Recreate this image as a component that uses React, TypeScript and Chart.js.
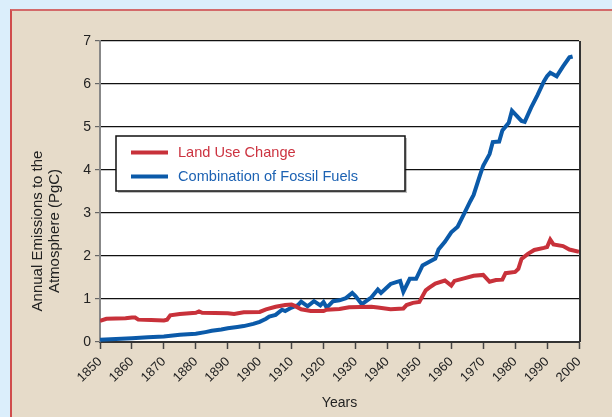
import React, { useEffect, useRef } from "react";
import { Chart, registerables } from "chart.js";

Chart.register(...registerables);

const fossilYears = [1850, 1855, 1860, 1865, 1870, 1875, 1880, 1883, 1885, 1888, 1890, 1893, 1895, 1898, 1900, 1902, 1903, 1905, 1907, 1908, 1910, 1912, 1913, 1915, 1917, 1919, 1920, 1921, 1923, 1925, 1927, 1929, 1930, 1932, 1935, 1937, 1938, 1941, 1943, 1944, 1945, 1947, 1949, 1951, 1953, 1955, 1956, 1958, 1960, 1962, 1964, 1966, 1967, 1969, 1970, 1972, 1973, 1975, 1976, 1978, 1979, 1980, 1982, 1983, 1985, 1987, 1989, 1990, 1991, 1992, 1993, 1995, 1997, 1998];
const fossilValues = [0.05, 0.07, 0.09, 0.11, 0.13, 0.17, 0.19, 0.23, 0.26, 0.29, 0.32, 0.35, 0.37, 0.42, 0.47, 0.54, 0.59, 0.63, 0.75, 0.72, 0.8, 0.86, 0.94, 0.83, 0.95, 0.85, 0.93, 0.8, 0.95, 0.97, 1.02, 1.14, 1.07, 0.88, 1.04, 1.22, 1.14, 1.35, 1.4, 1.42, 1.17, 1.47, 1.47, 1.78, 1.86, 1.94, 2.15, 2.33, 2.55, 2.68, 2.98, 3.28, 3.42, 3.88, 4.1, 4.37, 4.65, 4.66, 4.92, 5.1, 5.38, 5.3, 5.14, 5.12, 5.45, 5.74, 6.06, 6.18, 6.26, 6.22, 6.18, 6.41, 6.62, 6.64];

const landYears = [1850, 1852, 1858, 1860, 1861, 1862, 1866, 1870, 1871, 1872, 1875, 1880, 1881, 1882, 1890, 1892, 1895, 1900, 1902, 1905, 1908, 1910, 1911, 1913, 1916, 1920, 1921, 1925, 1928, 1935, 1937, 1941, 1945, 1946, 1948, 1950, 1952, 1953, 1955, 1958, 1960, 1961, 1964, 1967, 1970, 1972, 1974, 1976, 1977, 1980, 1981, 1982, 1984, 1986, 1989, 1990, 1991, 1992, 1995, 1997, 2000];
const landValues = [0.49, 0.54, 0.55, 0.57, 0.57, 0.52, 0.51, 0.5, 0.52, 0.62, 0.65, 0.68, 0.71, 0.68, 0.67, 0.65, 0.69, 0.7, 0.76, 0.82, 0.86, 0.87, 0.84, 0.76, 0.72, 0.72, 0.75, 0.77, 0.81, 0.82, 0.8, 0.76, 0.78, 0.86, 0.91, 0.93, 1.2, 1.26, 1.36, 1.43, 1.31, 1.42, 1.48, 1.54, 1.56, 1.4, 1.44, 1.45, 1.6, 1.63, 1.7, 1.93, 2.05, 2.14, 2.19, 2.21, 2.38, 2.27, 2.23, 2.15, 2.1];

const seriesLabels = ["Land Use Change", "Combination of Fossil Fuels"];
const seriesColors = ["#c8313a", "#0b5aa9"];
const legendTextColors = ["#cc3340", "#1c62b3"];
const yTitleLines = ["Annual Emissions to the", "Atmosphere (PgC)"];
const xTitle = "Years";

const FONT = "'Liberation Sans', Arial, sans-serif";

const decorPlugin = {
  id: "decor",
  beforeDraw(chart: any) {
    const { ctx, chartArea } = chart;
    ctx.save();
    ctx.fillStyle = "#ffffff";
    ctx.fillRect(chartArea.left, chartArea.top, chartArea.right - chartArea.left, chartArea.bottom - chartArea.top);
    ctx.restore();
  },
  afterDraw(chart: any) {
    const { ctx, chartArea } = chart;
    ctx.save();
    // right border
    ctx.strokeStyle = "#333";
    ctx.lineWidth = 2;
    ctx.beginPath();
    ctx.moveTo(chartArea.right + 1, chartArea.top);
    ctx.lineTo(chartArea.right + 1, chartArea.bottom);
    ctx.stroke();

    // y-axis title
    ctx.fillStyle = "#222";
    ctx.font = `15px ${FONT}`;
    ctx.textAlign = "center";
    ctx.textBaseline = "middle";
    const cy = 231;
    const xs = [37.5, 54.5];
    yTitleLines.forEach((t, i) => {
      ctx.save();
      ctx.translate(xs[i], cy);
      ctx.rotate(-Math.PI / 2);
      ctx.fillText(t, 0, 0);
      ctx.restore();
    });

    // legend box
    const bx = 116, by = 136, bw = 289, bh = 55;
    ctx.fillStyle = "rgba(0,0,0,0.25)";
    ctx.fillRect(bx + 2, by + 2, bw, bh);
    ctx.fillStyle = "#ffffff";
    ctx.fillRect(bx, by, bw, bh);
    ctx.strokeStyle = "#111";
    ctx.lineWidth = 1.5;
    ctx.strokeRect(bx, by, bw, bh);
    ctx.font = `14.6px ${FONT}`;
    ctx.textAlign = "left";
    const rows = [152.5, 176.5];
    chart.data.datasets.forEach((ds: any, i: number) => {
      ctx.strokeStyle = ds.borderColor;
      ctx.lineWidth = 4;
      ctx.beginPath();
      ctx.moveTo(131, rows[i]);
      ctx.lineTo(168, rows[i]);
      ctx.stroke();
      ctx.fillStyle = legendTextColors[i];
      ctx.fillText(ds.label, 178, rows[i] + 0.5);
    });
    ctx.restore();
  },
};

export default function App() {
  const ref = useRef<HTMLCanvasElement | null>(null);
  useEffect(() => {
    if (!ref.current) return;
    const chart = new Chart(ref.current, {
      type: "line",
      data: {
        datasets: [
          {
            label: seriesLabels[0],
            data: landYears.map((x, i) => ({ x, y: landValues[i] })),
            borderColor: seriesColors[0],
            backgroundColor: seriesColors[0],
            borderWidth: 4,
            pointRadius: 0,
            tension: 0,
          },
          {
            label: seriesLabels[1],
            data: fossilYears.map((x, i) => ({ x, y: fossilValues[i] })),
            borderColor: seriesColors[1],
            backgroundColor: seriesColors[1],
            borderWidth: 4,
            pointRadius: 0,
            tension: 0,
          },
        ],
      },
      options: {
        animation: false,
        responsive: false,
        layout: { padding: { top: 41, right: 33, bottom: 0, left: 0 } },
        plugins: {
          legend: { display: false },
          tooltip: { enabled: false },
        },
        scales: {
          x: {
            type: "linear",
            min: 1850,
            max: 2000,
            afterFit: (s: any) => {
              s.height = 75;
            },
            ticks: {
              stepSize: 10,
              minRotation: 45,
              maxRotation: 45,
              autoSkip: false,
              color: "#222",
              font: { family: FONT, size: 13 },
              padding: 5,
              callback: (v: any) => String(v),
            },
            grid: {
              drawOnChartArea: false,
              drawTicks: true,
              tickLength: 7,
              tickColor: "#444",
              tickWidth: 1.5,
            },
            border: { color: "#333", width: 2 },
            title: {
              display: true,
              text: xTitle,
              color: "#222",
              font: { family: FONT, size: 14 },
              padding: { top: 0, bottom: 5 },
            },
          },
          y: {
            min: 0,
            max: 7,
            afterFit: (s: any) => {
              s.width = 100;
            },
            ticks: {
              stepSize: 1,
              color: "#222",
              font: { family: FONT, size: 14 },
              padding: 4,
            },
            grid: {
              color: "#111",
              lineWidth: 1.2,
              drawTicks: true,
              tickLength: 5,
              tickColor: "#666",
            },
            border: { color: "#888", width: 2 },
          },
        },
      },
      plugins: [decorPlugin],
    } as any);
    return () => chart.destroy();
  }, []);

  return (
    <div style={{ position: "fixed", left: 0, top: 0, width: 612, height: 417, background: "#dbeefb", overflow: "hidden" }}>
      <div
        style={{
          position: "absolute",
          left: 10,
          top: 9,
          width: 620,
          height: 420,
          background: "#e6dbc9",
          borderTop: "2px solid #d36a6a",
          borderLeft: "2px solid #d04c4c",
        }}
      />
      <canvas ref={ref} width={612} height={417} style={{ position: "absolute", left: 0, top: 0, width: 612, height: 417 }} />
    </div>
  );
}
